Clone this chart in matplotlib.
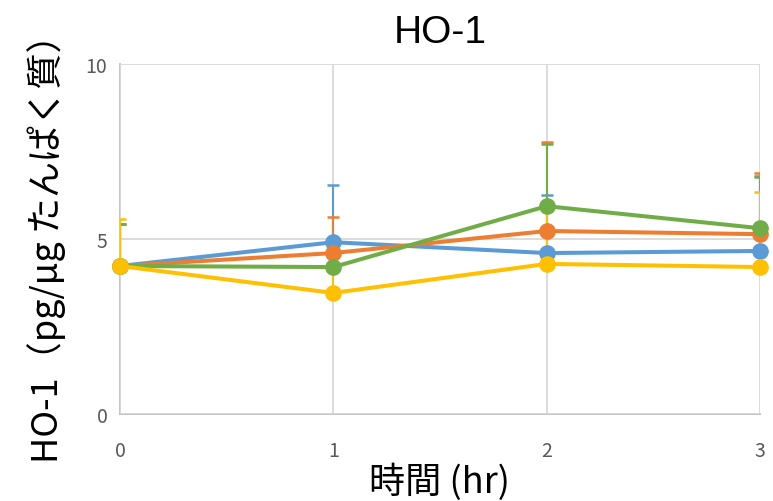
import matplotlib
matplotlib.use("Agg")
import matplotlib.pyplot as plt

plt.rcParams['font.family'] = ['Noto Sans CJK JP', 'DejaVu Sans']

hours = [0, 1, 2, 3]
blue_vals = [4.23, 4.91, 4.60, 4.66]
orange_vals = [4.23, 4.60, 5.23, 5.14]
green_vals = [4.23, 4.20, 5.94, 5.31]
yellow_vals = [4.23, 3.46, 4.29, 4.20]
blue_err = [1.2, 1.63, 1.66, 2.14]
orange_err = [1.2, 1.03, 2.54, 1.75]
green_err = [1.2, 0.30, 1.77, 1.46]
yellow_err = [1.34, 0.80, 1.60, 2.14]
colors = ["#5B9BD5", "#ED7D31", "#70AD47", "#FFC000"]

values = [blue_vals, orange_vals, green_vals, yellow_vals]
errors = [blue_err, orange_err, green_err, yellow_err]

fig = plt.figure(figsize=(7.73, 5.02), dpi=100)
ax = fig.add_axes([0.1552, 0.1733, 0.828, 0.697])

cap_half = 0.028
for i, (v, e, c) in enumerate(zip(values, errors, colors)):
    tops = [a + b for a, b in zip(v, e)]
    ax.vlines(hours, v, tops, color=c, lw=1.5, zorder=2 + i * 0.01)
    ax.hlines(tops, [h - cap_half for h in hours], [h + cap_half for h in hours],
              color=c, lw=1.8, zorder=2 + i * 0.01)
for i, (v, c) in enumerate(zip(values, colors)):
    ax.plot(hours, v, color=c, lw=2.9, marker='o', markersize=11,
            clip_on=False, zorder=3 + i * 0.01)

ax.set_xlim(0, 3)
ax.set_ylim(0, 10)
ax.set_xticks(hours)
ax.set_yticks([0, 5, 10])
ax.grid(True, color="#D9D9D9", lw=1.3, zorder=0)
ax.set_axisbelow(True)
for s in ["top", "right"]:
    ax.spines[s].set_visible(False)
for s in ["left", "bottom"]:
    ax.spines[s].set_color("#BFBFBF")
    ax.spines[s].set_linewidth(1.3)
    ax.spines[s].set_zorder(0.5)
ax.tick_params(length=0, labelsize=14, labelcolor="#595959")
ax.tick_params(axis='y', pad=9)
ax.tick_params(axis='x', pad=19)

ax.set_title("HO-1", fontsize=28, pad=16, family=['Liberation Sans', 'DejaVu Sans'])
ax.set_xlabel("時間 (hr)", fontsize=26, labelpad=1)
ax.set_ylabel("HO-1（pg/μg たんぱく質）", fontsize=26, labelpad=14)

fig.savefig("out.png", dpi=100)
